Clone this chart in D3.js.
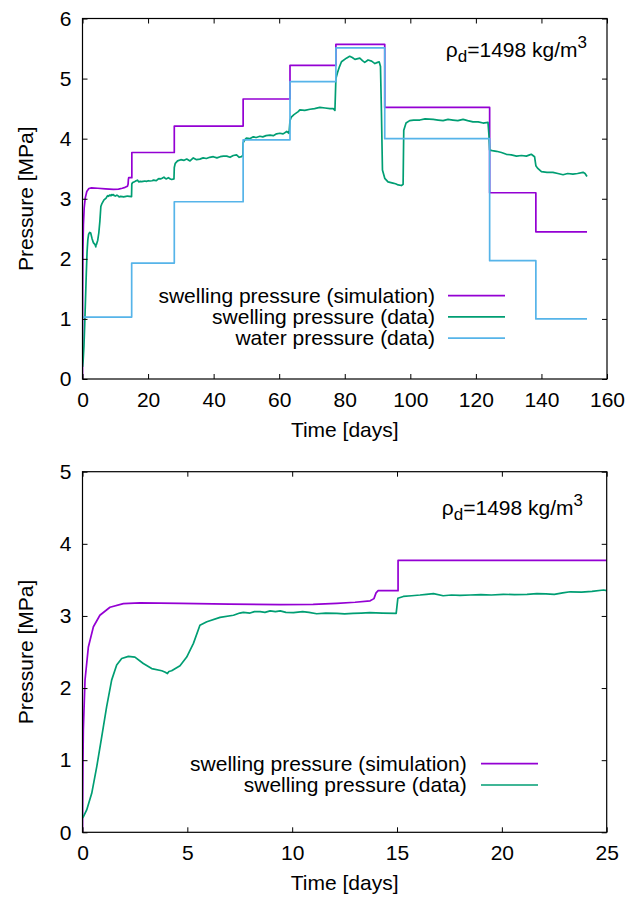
<!DOCTYPE html>
<html><head><meta charset="utf-8">
<script src="https://cdn.jsdelivr.net/npm/d3@7/dist/d3.min.js"></script>
<style>
body{margin:0;background:#fff;}
text{font-family:"Liberation Sans",Arial,Helvetica,sans-serif;fill:#000;}
</style></head>
<body>
<svg id="chart" width="630" height="902"></svg>
<script>
// ---------- DATA ----------
const topXTicks = [0,20,40,60,80,100,120,140,160];
const topYTicks = [0,1,2,3,4,5,6];
const botXTicks = [0,5,10,15,20,25];
const botYTicks = [0,1,2,3,4,5];

const seriesNames = ["swelling pressure (simulation)","swelling pressure (data)","water pressure (data)"];
const annotation = {base:"ρ", sub:"d", mid:"=1498 kg/m", sup:"3"};

// simulation, first 25 days [t, MPa]
const simEarly = [[0,0],[0.02,0.9],[0.04,1.42],[0.12,2.11],[0.28,2.57],[0.52,2.85],[0.83,3.01],[1.31,3.12],[1.95,3.17],[2.74,3.18],[4.65,3.175],[7,3.165],[9.42,3.156],[11,3.16],[12.13,3.175],[13,3.19],[13.72,3.21],[13.9,3.24],[14.0,3.32],[14.1,3.35],[15.05,3.35],[15.05,3.77],[25,3.77]];
// simulation, after 25 days
const simLate = [[25,3.77],[28,3.77],[28,4.21],[49,4.21],[49,4.66],[63.3,4.66],[63.3,5.22],[77.3,5.22],[77.3,5.57],[92.2,5.57],[92.2,4.52],[124.2,4.52],[124.2,3.10],[138.3,3.10],[138.3,2.45],[153.9,2.45]];

// measured swelling pressure, first 25 days
const dataEarly = [[0,0.2],[0.05,0.22],[0.2,0.31],[0.44,0.54],[0.68,0.91],[0.92,1.33],[1.15,1.74],[1.39,2.11],[1.63,2.32],[1.87,2.41],[2.19,2.44],[2.5,2.43],[2.9,2.34],[3.3,2.27],[3.78,2.24],[3.95,2.22],[4.05,2.20],[4.12,2.23],[4.25,2.24],[4.65,2.31],[4.97,2.43],[5.29,2.62],[5.6,2.87],[5.93,2.92],[6.56,2.98],[7.2,3.01],[7.5,3.04],[7.67,3.05],[7.99,3.04],[8.2,3.06],[8.47,3.06],[8.7,3.05],[8.95,3.07],[9.2,3.06],[9.43,3.07],[9.7,3.05],[10.06,3.045],[10.5,3.06],[10.8,3.05],[11.17,3.03],[11.6,3.04],[12.13,3.035],[12.5,3.03],[12.9,3.035],[13.3,3.04],[13.7,3.045],[14.3,3.04],[14.96,3.035],[15.04,3.245],[15.3,3.27],[15.7,3.28],[16.1,3.29],[16.4,3.30],[16.74,3.31],[17.2,3.28],[17.6,3.29],[18.0,3.285],[18.5,3.29],[19.0,3.295],[19.5,3.29],[20.07,3.30],[20.6,3.295],[21.2,3.30],[21.67,3.31],[22.1,3.305],[22.5,3.30],[22.9,3.32],[23.26,3.335],[23.8,3.33],[24.3,3.34],[24.85,3.36],[25,3.35]];
// measured swelling pressure, after 25 days
const dataLate = [[25.5,3.33],[26.2,3.35],[26.8,3.33],[27.2,3.32],[27.9,3.33],[28.0,3.52],[28.3,3.59],[29,3.63],[30,3.65],[31,3.64],[31.8,3.66],[32.8,3.63],[33.8,3.68],[34.8,3.65],[35.8,3.66],[36.8,3.68],[37.8,3.67],[38.8,3.69],[39.9,3.70],[41,3.68],[42,3.70],[43,3.71],[44,3.71],[45,3.69],[46,3.72],[47,3.73],[47.8,3.69],[48.5,3.70],[48.9,3.72],[49.0,3.93],[49.5,3.98],[50,4.01],[51,4.0],[52.1,4.03],[53,4.02],[54.1,4.04],[55,4.03],[56,4.05],[57.2,4.06],[58.2,4.05],[59.2,4.08],[60.2,4.09],[61.2,4.08],[62.3,4.12],[63.0,4.09],[63.3,4.30],[63.7,4.36],[64.5,4.40],[65.8,4.45],[66.3,4.48],[67.8,4.47],[69.4,4.49],[70.8,4.50],[72.4,4.52],[74,4.51],[75.5,4.50],[76.5,4.50],[77.0,4.47],[77.3,5.0],[77.8,5.1],[78.4,5.2],[79,5.28],[80.5,5.34],[81.5,5.37],[82.3,5.35],[83.1,5.32],[84.6,5.34],[85.4,5.30],[86.1,5.27],[87.1,5.31],[88.2,5.29],[89.2,5.25],[90.0,5.27],[90.5,5.28],[90.9,5.20],[91.2,4.42],[91.5,3.48],[92.2,3.34],[93.2,3.28],[94.7,3.26],[95.5,3.25],[96.3,3.23],[97.3,3.22],[97.8,3.24],[98.0,4.14],[98.7,4.26],[99.8,4.30],[101,4.31],[102.9,4.31],[104.5,4.33],[107,4.32],[108.5,4.31],[110,4.30],[111.5,4.32],[113,4.31],[114.5,4.30],[116.1,4.32],[117.5,4.30],[119.1,4.28],[120.7,4.28],[122.2,4.26],[123.7,4.27],[124.0,4.05],[124.2,3.81],[125,3.80],[126.3,3.79],[127.8,3.77],[129.3,3.74],[130.8,3.73],[132.4,3.71],[133.9,3.72],[135.4,3.71],[136.4,3.73],[136.9,3.74],[137.9,3.70],[138.3,3.55],[138.8,3.51],[140,3.45],[141.7,3.44],[143.5,3.44],[145,3.42],[146.6,3.40],[148,3.42],[149.6,3.41],[151,3.42],[152.7,3.44],[153.3,3.42],[153.9,3.37]];

// measured water pressure (steps)
const water = [[0,1.03],[15,1.03],[15,1.93],[28,1.93],[28,2.95],[49,2.95],[49,3.98],[63.3,3.98],[63.3,4.95],[77.3,4.95],[77.3,5.51],[92.2,5.51],[92.2,4.0],[124.2,4.0],[124.2,1.97],[138.3,1.97],[138.3,1.0],[153.9,1.0]];

const colors = {sim:"#9400d3", data:"#009e73", water:"#56b4e9"};

// ---------- DRAW ----------
const svg = d3.select("#chart");
svg.append("rect").attr("width",630).attr("height",902).attr("fill","#fff");

function panel(cfg){
  const x = d3.scaleLinear().domain(cfg.xDomain).range([cfg.left, cfg.right]);
  const y = d3.scaleLinear().domain(cfg.yDomain).range([cfg.bottom, cfg.top]);
  const g = svg.append("g");
  const clipId = "clip"+cfg.id;
  svg.append("clipPath").attr("id",clipId).append("rect")
    .attr("x",cfg.left).attr("y",cfg.top-2).attr("width",cfg.right-cfg.left).attr("height",cfg.bottom-cfg.top+2);

  const line = d3.line().x(d=>x(d[0])).y(d=>y(d[1]));
  const lg = g.append("g").attr("clip-path",`url(#${clipId})`);
  cfg.series.forEach(s=>{
    lg.append("path").datum(s.data).attr("d",line).attr("fill","none")
      .attr("stroke",s.color).attr("stroke-width",1.7).attr("stroke-linejoin","round");
  });

  // axes (ticks inward, mirrored)
  const fs = 21;
  const fmt = d3.format("d");
  const mk = (axis, tx, ty)=> g.append("g").attr("transform",`translate(${tx},${ty})`).call(axis)
      .call(a=>{a.select(".domain").remove(); a.selectAll("line").attr("stroke","#000");});
  const bx = mk(d3.axisBottom(x).tickValues(cfg.xTicks).tickFormat(fmt).tickSizeInner(-5).tickSizeOuter(0).tickPadding(13), 0, cfg.bottom);
  bx.selectAll("text").attr("font-size",fs).attr("dy","0.72em");
  mk(d3.axisTop(x).tickValues(cfg.xTicks).tickSizeInner(-5).tickSizeOuter(0).tickFormat(""), 0, cfg.top);
  const ly = mk(d3.axisLeft(y).tickValues(cfg.yTicks).tickFormat(fmt).tickSizeInner(-5).tickSizeOuter(0).tickPadding(11), cfg.left, 0);
  ly.selectAll("text").attr("font-size",fs);
  mk(d3.axisRight(y).tickValues(cfg.yTicks).tickSizeInner(-5).tickSizeOuter(0).tickFormat(""), cfg.right, 0);
  g.selectAll(".tick text").attr("fill","#000").attr("font-family",'"Liberation Sans",Arial,sans-serif');

  g.append("rect").attr("x",cfg.left).attr("y",cfg.top).attr("width",cfg.right-cfg.left)
    .attr("height",cfg.bottom-cfg.top).attr("fill","none").attr("stroke","#000").attr("stroke-width",1.2);

  // axis titles
  g.append("text").attr("x",(cfg.left+cfg.right)/2).attr("y",cfg.bottom+58)
    .attr("text-anchor","middle").attr("font-size",fs).text("Time [days]");
  g.append("text").attr("transform",`translate(33,${(cfg.top+cfg.bottom)/2}) rotate(-90)`)
    .attr("text-anchor","middle").attr("font-size",fs).text("Pressure [MPa]");

  // annotation
  const t = g.append("text").attr("x",cfg.annX).attr("y",cfg.annY).attr("text-anchor","end").attr("font-size",fs);
  t.append("tspan").text(annotation.base);
  t.append("tspan").attr("dy",5).attr("font-size",17).text(annotation.sub);
  t.append("tspan").attr("dy",-5).text(annotation.mid);
  t.append("tspan").attr("dy",-9).attr("font-size",17).text(annotation.sup);

  // legend
  cfg.series.forEach((s,i)=>{
    const yy = cfg.legY + i*cfg.legDy;
    g.append("text").attr("x",cfg.legTextX).attr("y",yy).attr("dy","0.35em")
      .attr("text-anchor","end").attr("font-size",fs).text(s.name);
    g.append("line").attr("x1",cfg.legL1).attr("x2",cfg.legL2).attr("y1",yy).attr("y2",yy)
      .attr("stroke",s.color).attr("stroke-width",1.7);
  });
}

panel({id:"top", xDomain:[0,160], yDomain:[0,6], left:82.5, right:607, top:18.5, bottom:379,
  xTicks:topXTicks, yTicks:topYTicks, annX:587, annY:57,
  legY:295.7, legDy:21.2, legTextX:435, legL1:448, legL2:505,
  series:[
    {name:seriesNames[0], color:colors.sim, data:simEarly.concat(simLate)},
    {name:seriesNames[1], color:colors.data, data:dataEarly.concat(dataLate)},
    {name:seriesNames[2], color:colors.water, data:water}
  ]});

panel({id:"bot", xDomain:[0,25], yDomain:[0,5], left:82.5, right:606.7, top:471.7, bottom:832.3,
  xTicks:botXTicks, yTicks:botYTicks, annX:583, annY:515,
  legY:763.7, legDy:21.3, legTextX:466.7, legL1:481, legL2:538,
  series:[
    {name:seriesNames[0], color:colors.sim, data:simEarly},
    {name:seriesNames[1], color:colors.data, data:dataEarly}
  ]});
</script>
</body></html>
